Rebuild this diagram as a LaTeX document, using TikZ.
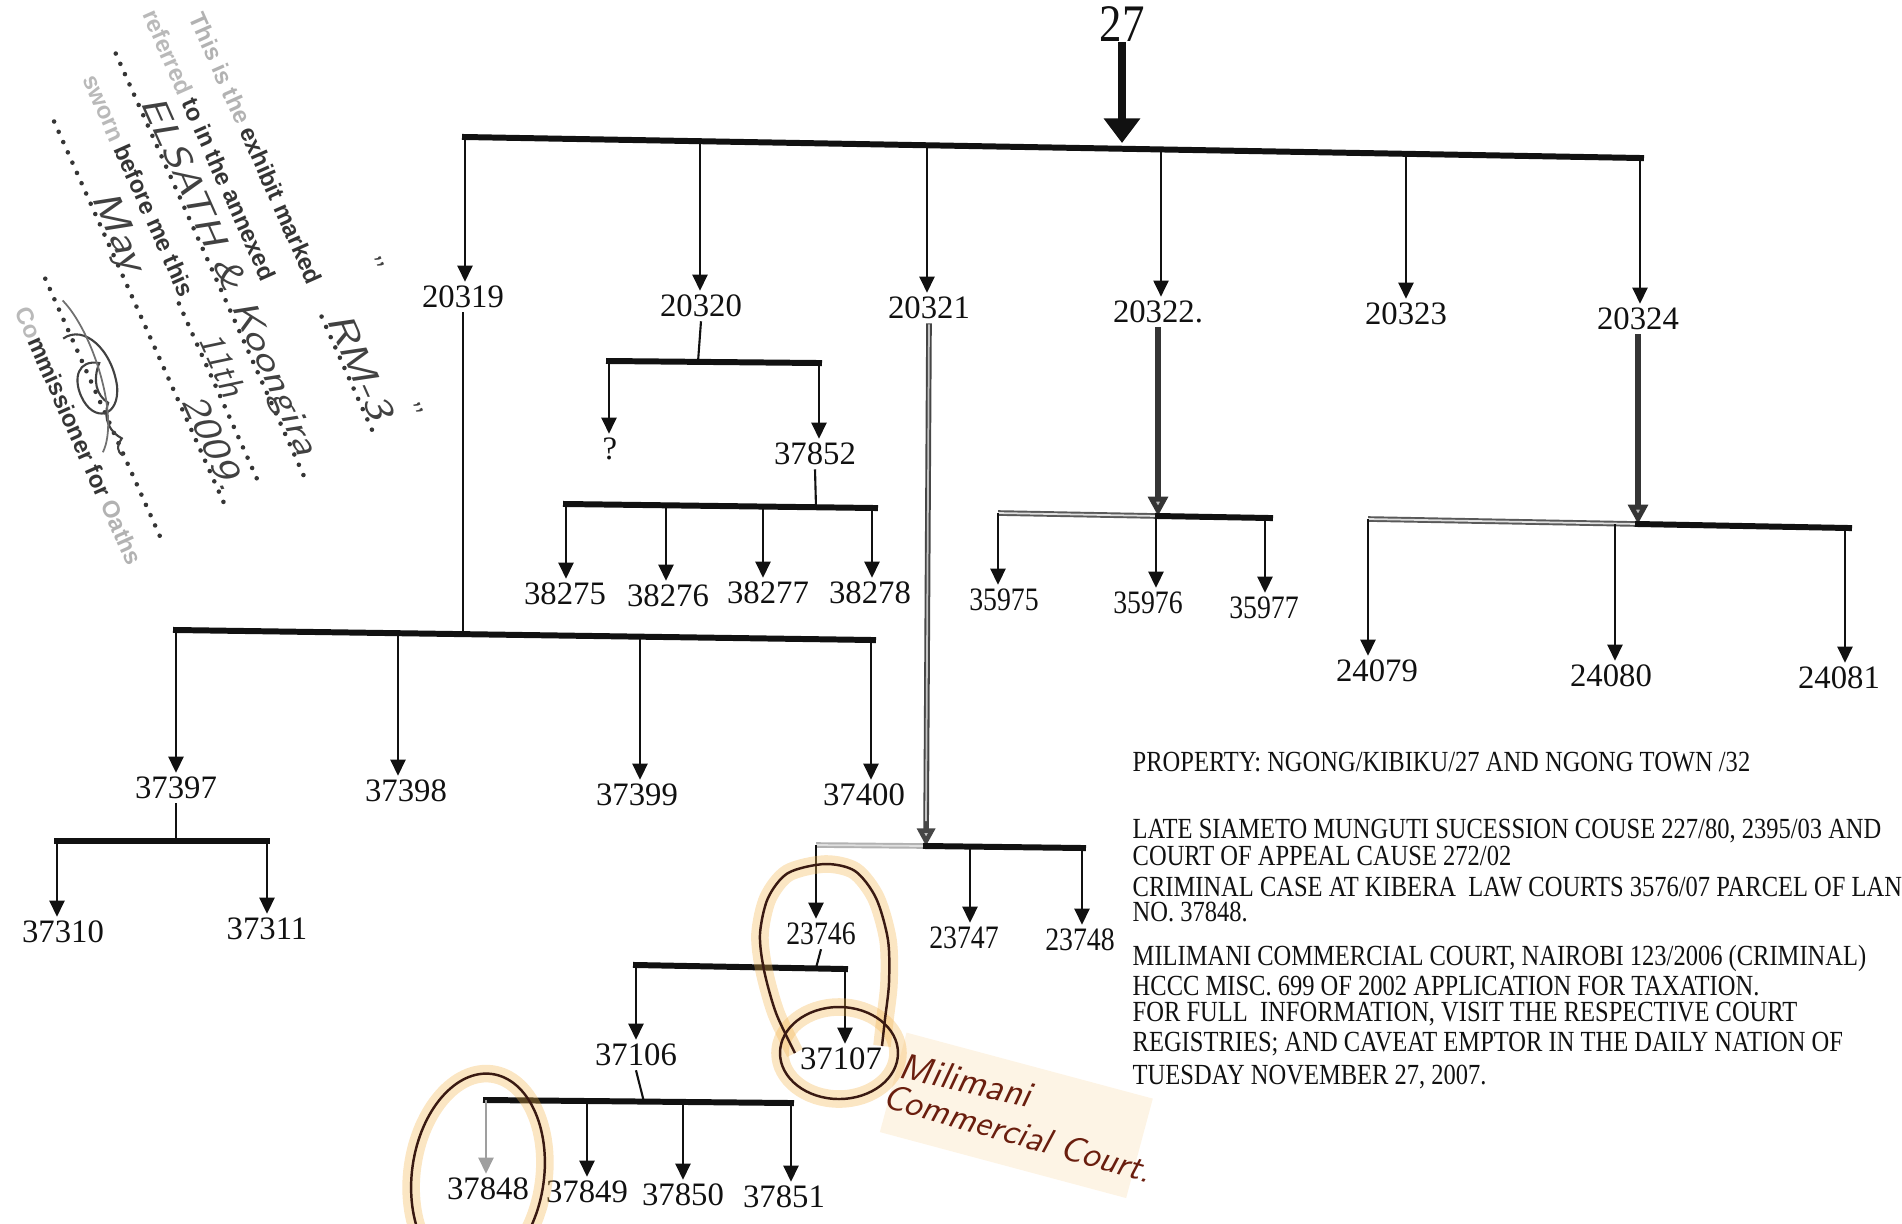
\documentclass[tikz,border=0pt]{standalone}
\usepackage{fontspec}
\usepackage{graphicx}
\setmainfont{Liberation Serif}
\newfontfamily\condserif[FakeStretch=0.84]{Liberation Serif}
\newfontfamily\numcond[FakeStretch=0.85]{Liberation Serif}
\newfontfamily\stampsans{Liberation Sans}
\usetikzlibrary{arrows.meta}
\definecolor{ink}{HTML}{111111}
\definecolor{penred}{HTML}{6A1E0E}
\definecolor{circ}{HTML}{3A1A12}
\definecolor{glow}{HTML}{F3B24A}
\tikzset{
  num/.style={font=\fontsize{9.3}{11}\selectfont, inner sep=1pt, text=ink},
  cnum/.style={font=\numcond\fontsize{9.3}{11}\selectfont, inner sep=1pt, text=ink},
  hbar/.style={draw=ink, line width=1.7pt, line cap=rect},
  stem/.style={draw=ink, line width=0.6pt},
  drop/.style={draw=ink, line width=0.6pt, -{Triangle[width=4.3pt,length=4.6pt]}},
  gdrop/.style={draw=gray!75, line width=0.6pt, -{Triangle[width=4.3pt,length=4.6pt]}},
  heavy/.style={draw=ink!85, line width=1.8pt, -{Triangle[width=5.5pt,length=5.5pt,fill=gray!55]}},
  greystem/.style={draw=gray!55!black, line width=1.6pt, -{Triangle[width=5pt,length=5pt,fill=gray!50]}},
  greyin/.style={draw=gray!45, line width=0.5pt},
  dbl/.style={draw=gray!70!black, line width=1.6pt},
  dblin/.style={draw=gray!25, line width=0.5pt},
  mainarr/.style={draw=ink, line width=2pt, -{Triangle[width=10pt,length=7pt]}},
  info/.style={font=\condserif\fontsize{8.3}{9}\selectfont, anchor=west, inner sep=0pt, text=ink},
  pen/.style={font=\sffamily\slshape, text=penred, inner sep=0pt},
  ring/.style={draw=circ, line width=0.7pt},
  ringglow/.style={draw=glow, line width=5pt, opacity=0.33},
  stp/.style={font=\stampsans\bfseries\fontsize{6.8}{7.5}\selectfont, anchor=base west, inner sep=0pt, text=ink!85},
  sth/.style={font=\sffamily\slshape, anchor=base west, inner sep=0pt, text=ink!80},
  dotline/.style={draw=ink!85, line width=1.3pt, line cap=round, dash pattern=on 0pt off 3.2pt},
}
\begin{document}
\begin{tikzpicture}[x=0.01cm,y=-0.01cm]
\useasboundingbox (0,0) rectangle (1902,1223);

% ---------------- root and top bar
\node[font=\numcond\fontsize{15}{18}\selectfont, inner sep=0pt, text=ink] (n27) at (1122,24) {27};
\coordinate (tbL) at (465,137);
\coordinate (tbR) at (1641,158);
\coordinate (tbM) at (1122,143);
\draw[mainarr] (n27.south) -- (tbM);
\draw[hbar] (tbL) -- (tbR);

% ---------------- level 1
\node[num] (n20319) at (463,297) {20319};
\node[num] (n20320) at (701,306) {20320};
\node[num] (n20321) at (929,308) {20321};
\node[num] (n20322) at (1158,312) {20322.};
\node[num] (n20323) at (1406,314) {20323};
\node[num] (n20324) at (1638,319) {20324};
\coordinate (d1) at (465,138);
\coordinate (d2) at (700,142);
\coordinate (d3) at (927,146);
\coordinate (d4) at (1161,150);
\coordinate (d5) at (1406,154);
\coordinate (d6) at (1640,158);
\draw[drop] (d1) -- (d1 |- n20319.north);
\draw[drop] (d2) -- (d2 |- n20320.north);
\draw[drop] (d3) -- (d3 |- n20321.north);
\draw[drop] (d4) -- (d4 |- n20322.north);
\draw[drop] (d5) -- (d5 |- n20323.north);
\draw[drop] (d6) -- (d6 |- n20324.north);

% ---------------- 20319 subtree
\coordinate (b1L) at (176,630);
\coordinate (b1R) at (873,640);
\coordinate (b1M) at (463,634);
\draw[stem] (n20319.south) -- (b1M);
\draw[hbar] (b1L) -- (b1R);
\node[num] (n37397) at (176,788) {37397};
\node[num] (n37398) at (406,791) {37398};
\node[num] (n37399) at (637,795) {37399};
\node[num] (n37400) at (864,795) {37400};
\coordinate (e1) at (176,631);
\coordinate (e2) at (398,634);
\coordinate (e3) at (640,637);
\coordinate (e4) at (871,640);
\draw[drop] (e1) -- (e1 |- n37397.north);
\draw[drop] (e2) -- (e2 |- n37398.north);
\draw[drop] (e3) -- (e3 |- n37399.north);
\draw[drop] (e4) -- (e4 |- n37400.north);

\coordinate (b2L) at (57,841);
\coordinate (b2R) at (267,841);
\coordinate (b2M) at (176,841);
\draw[stem] (n37397.south) -- (b2M);
\draw[hbar] (b2L) -- (b2R);
\node[num] (n37310) at (63,932) {37310};
\node[num] (n37311) at (267,929) {37311};
\draw[drop] (b2L) -- (b2L |- n37310.north);
\draw[drop] (b2R) -- (b2R |- n37311.north);

% ---------------- 20320 subtree
\coordinate (b3L) at (609,361);
\coordinate (b3R) at (819,363);
\coordinate (b3M) at (698,362);
\draw[stem] (n20320.south) -- (b3M);
\draw[hbar] (b3L) -- (b3R);
\node[num] (nq) at (610,449) {?};
\node[num] (n37852) at (815,454) {37852};
\draw[drop] (b3L) -- (b3L |- nq.north);
\draw[drop] (b3R) -- (b3R |- n37852.north);

\coordinate (b4L) at (566,504);
\coordinate (b4R) at (875,508);
\coordinate (b4M) at (816,507);
\draw[stem] (n37852.south) -- (b4M);
\draw[hbar] (b4L) -- (b4R);
\node[num] (n38275) at (565,594) {38275};
\node[num] (n38276) at (668,596) {38276};
\node[num] (n38277) at (768,593) {38277};
\node[num] (n38278) at (870,593) {38278};
\coordinate (f2) at (666,505);
\coordinate (f3) at (763,506);
\coordinate (f4) at (872,508);
\draw[drop] (b4L) -- (b4L |- n38275.north);
\draw[drop] (f2) -- (f2 |- n38276.north);
\draw[drop] (f3) -- (f3 |- n38277.north);
\draw[drop] (f4) -- (f4 |- n38278.north);

% ---------------- 20321 subtree
\coordinate (b5L) at (816,845);
\coordinate (b5M) at (926,846);
\coordinate (b5R) at (1083,848);
\draw[greystem] (n20321.south) -- (b5M);
\draw[greyin] ([yshift=-0.3pt]n20321.south) -- ([yshift=0.25cm]b5M);
\draw[dbl, draw=gray!60] (b5L) -- (b5M);
\draw[dblin] (b5L) -- (b5M);
\draw[hbar] (b5M) -- (b5R);
\node[cnum] (n23746) at (821,934) {23746};
\node[cnum] (n23747) at (964,938) {23747};
\node[cnum] (n23748) at (1080,940) {23748};
\coordinate (g2) at (970,847);
\coordinate (g3) at (1082,848);
\draw[drop] (b5L) -- (b5L |- n23746.north);
\draw[drop] (g2) -- (g2 |- n23747.north);
\draw[drop] (g3) -- (g3 |- n23748.north);

\coordinate (b6L) at (636,965);
\coordinate (b6R) at (845,969);
\coordinate (b6M) at (816,968);
\draw[stem] (n23746.south) -- (b6M);
\draw[hbar] (b6L) -- (b6R);
\node[num] (n37106) at (636,1055) {37106};
\node[num] (n37107) at (841,1059) {37107};
\draw[drop] (b6L) -- (b6L |- n37106.north);
\draw[drop] (b6R) -- (b6R |- n37107.north);

\coordinate (b7L) at (486,1100);
\coordinate (b7R) at (791,1103);
\coordinate (b7M) at (644,1102);
\draw[stem] (n37106.south) -- (b7M);
\draw[hbar] (b7L) -- (b7R);
\node[num] (n37848) at (488,1189) {37848};
\node[num] (n37849) at (587,1192) {37849};
\node[num] (n37850) at (683,1195) {37850};
\node[num] (n37851) at (784,1197) {37851};
\coordinate (h2) at (587,1101);
\coordinate (h3) at (683,1102);
\draw[gdrop] (b7L) -- (b7L |- n37848.north);
\draw[drop] (h2) -- (h2 |- n37849.north);
\draw[drop] (h3) -- (h3 |- n37850.north);
\draw[drop] (b7R) -- (b7R |- n37851.north);

% ---------------- 20322 subtree
\coordinate (b8L) at (998,513);
\coordinate (b8M) at (1158,516);
\coordinate (b8R) at (1270,518);
\draw[heavy] (n20322.south) -- (b8M);
\draw[dbl] (b8L) -- (b8M);
\draw[dblin] (b8L) -- (b8M);
\draw[hbar] (b8M) -- (b8R);
\node[cnum] (n35975) at (1004,600) {35975};
\node[cnum] (n35976) at (1148,603) {35976};
\node[cnum] (n35977) at (1264,608) {35977};
\coordinate (k2) at (1156,516);
\coordinate (k3) at (1265,518);
\draw[drop] (b8L) -- (b8L |- n35975.north);
\draw[drop] (k2) -- (k2 |- n35976.north);
\draw[drop] (k3) -- (k3 |- n35977.north);

% ---------------- 20324 subtree
\coordinate (b9L) at (1368,519);
\coordinate (b9M) at (1638,524);
\coordinate (b9R) at (1849,528);
\draw[heavy] (n20324.south) -- (b9M);
\draw[dbl] (b9L) -- (b9M);
\draw[dblin] (b9L) -- (b9M);
\draw[hbar] (b9M) -- (b9R);
\node[num] (n24079) at (1377,671) {24079};
\node[num] (n24080) at (1611,676) {24080};
\node[num] (n24081) at (1839,678) {24081};
\coordinate (m2) at (1615,524);
\coordinate (m3) at (1845,528);
\draw[drop] (b9L) -- (b9L |- n24079.north);
\draw[drop] (m2) -- (m2 |- n24080.north);
\draw[drop] (m3) -- (m3 |- n24081.north);

% ---------------- information text
\node[info] (t1) at (1132,762) {PROPERTY: NGONG/KIBIKU/27 AND NGONG TOWN /32};
\node[info] (t2) at (1132,831) {LATE SIAMETO MUNGUTI SUCESSION COUSE 227/80, 2395/03 AND};
\node[info] (t3) at (1132,856) {COURT OF APPEAL CAUSE 272/02};
\node[info] (t4) at (1132,887) {CRIMINAL CASE AT KIBERA\ \ LAW COURTS 3576/07 PARCEL OF LAN};
\node[info] (t5) at (1132,912) {NO. 37848.};
\node[info] (t6) at (1132,958) {MILIMANI COMMERCIAL COURT, NAIROBI 123/2006 (CRIMINAL)};
\node[info] (t7) at (1132,986) {HCCC MISC. 699 OF 2002 APPLICATION FOR TAXATION.};
\node[info] (t8) at (1132,1014) {FOR FULL\ \ INFORMATION, VISIT THE RESPECTIVE COURT};
\node[info] (t9) at (1132,1044) {REGISTRIES; AND CAVEAT EMPTOR IN THE DAILY NATION OF};
\node[info] (t10) at (1132,1077) {TUESDAY NOVEMBER 27, 2007.};

% ---------------- hand annotations (circles)
\draw[ringglow] plot[smooth] coordinates {(795,1053) (776,1013) (764,970) (760,934) (768,898) (788,873) (825,864) (855,871) (876,898) (888,940) (889,983) (885,1019) (882,1046)};
\draw[ringglow] (839,1053) ellipse [x radius=59, y radius=46];
\draw[ringglow, rotate around={-8:(478,1175)}] (478,1175) ellipse [x radius=66, y radius=102];
\fill[glow, opacity=0.14, rotate around={-15:(1010,1110)}] (890,1062) rectangle (1145,1165);
\draw[ring] plot[smooth] coordinates {(795,1053) (776,1013) (764,970) (760,934) (768,898) (788,873) (825,864) (855,871) (876,898) (888,940) (889,983) (885,1019) (882,1046)};
\draw[ring] (839,1053) ellipse [x radius=59, y radius=46];
\draw[ring, rotate around={-8:(478,1175)}] (478,1175) ellipse [x radius=66, y radius=102];
\node[pen, font=\sffamily\slshape\fontsize{10.5}{12}\selectfont, rotate=-13] (hw1) at (966,1080) {Milimani};
\node[pen, font=\sffamily\slshape\fontsize{10}{12}\selectfont, rotate=-16] (hw2) at (1018,1133) {Commercial Court.};

% ---------------- stamp (rotated)
\begin{scope}[rotate=-66, transform shape]
  \node[stp] (s1) at (92,-165) {\textcolor{gray!60}{This is the} exhibit marked};
  \draw[dotline] (420,-165) -- (548,-165);
  \node[sth, font=\sffamily\slshape\fontsize{10.5}{12}\selectfont] (s1h) at (424,-168) {\scalebox{1.3}[1]{RM-3}};
  \node[sth, font=\sffamily\fontsize{9}{10}\selectfont] (s1q1) at (385,-222) {''};
  \node[sth, font=\sffamily\fontsize{9}{10}\selectfont] (s1q2) at (535,-198) {''};
  \node[stp] (s2) at (70,-124) {\textcolor{gray!55}{referred} to in the annexed};
  \draw[dotline] (96,-84) -- (565,-84);
  \node[sth, font=\sffamily\slshape\fontsize{10}{11}\selectfont] (s3) at (150,-87) {\scalebox{1.25}[1]{ELSATH \& Koongira}};
  \node[stp] (s4) at (105,-43) {\textcolor{gray!55}{sworn} before me this};
  \draw[dotline] (350,-40) -- (545,-40);
  \node[sth, font=\sffamily\slshape\fontsize{10}{11}\selectfont] (s4h) at (390,-43) {11th};
  \draw[dotline] (133,0) -- (560,0);
  \node[sth, font=\sffamily\slshape\fontsize{11}{12}\selectfont] (s5a) at (217,-3) {\scalebox{1.25}[1]{May}};
  \node[sth, font=\sffamily\slshape\fontsize{10.5}{12}\selectfont] (s5b) at (440,-3) {\scalebox{1.2}[1]{2009.}};
  \draw[dotline] (273,72) -- (562,72);
  \draw[ink!80, line width=0.6pt] (335,80) .. controls (330,55) and (365,40) .. (400,50) .. controls (430,60) and (425,87) .. (395,87) .. controls (375,87) and (360,75) .. (372,57) .. controls (385,70) and (400,73) .. (412,65) .. controls (425,77) and (440,75) .. (450,67) .. controls (455,75) and (460,77) .. (466,73);
  \draw[ink!60, line width=0.5pt] (300,65) .. controls (340,50) and (430,60) .. (455,90);
  \node[stp] (s8) at (290,114) {\textcolor{gray!55}{Co}mmissioner for \textcolor{gray!60}{Oaths}};
\end{scope}
\end{tikzpicture}
\end{document}
